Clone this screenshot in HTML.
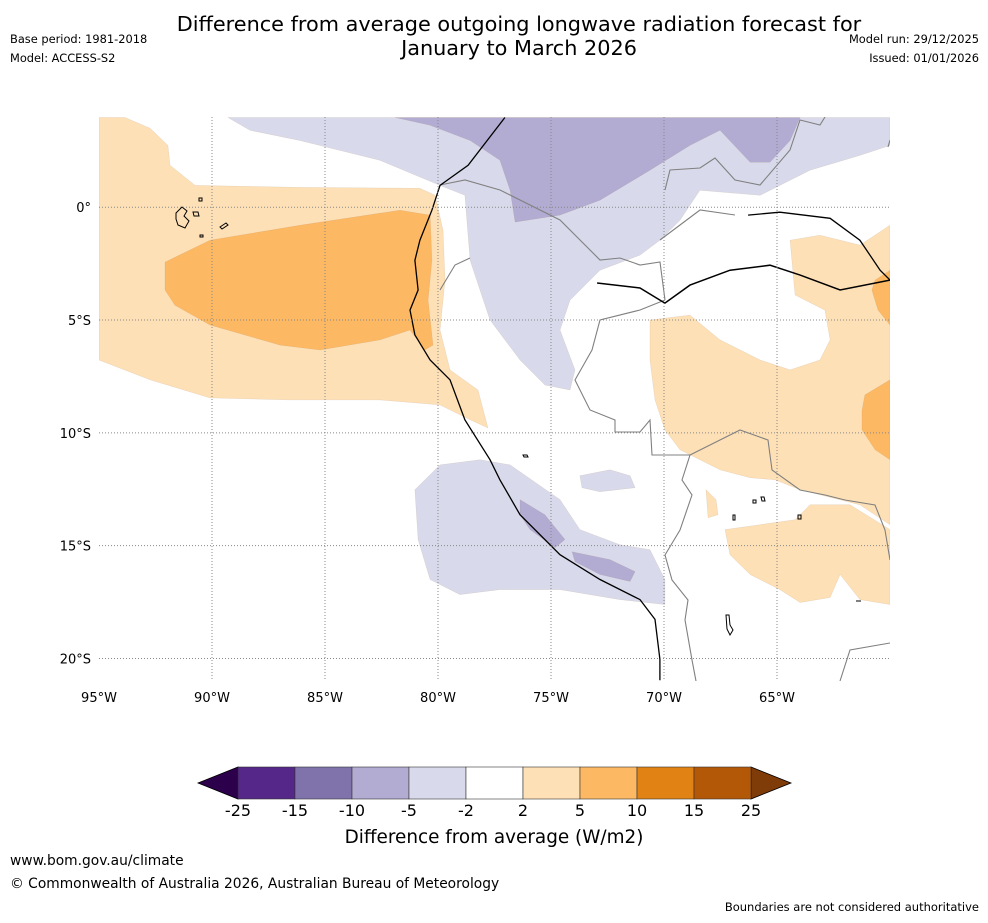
<!DOCTYPE html>
<html><head><meta charset="utf-8"><style>
body{margin:0;background:#fff;width:988px;height:919px;overflow:hidden;font-family:"DejaVu Sans","Liberation Sans",sans-serif;}
svg text{font-family:"DejaVu Sans","Liberation Sans",sans-serif;}
</style></head><body>
<svg id="c" width="988" height="919" xmlns="http://www.w3.org/2000/svg">
<text x="519" y="31" font-size="20.8" text-anchor="middle">Difference from average outgoing longwave radiation forecast for</text>
<text x="519" y="55" font-size="20.8" text-anchor="middle">January to March 2026</text>
<text x="10" y="43" font-size="11.4">Base period: 1981-2018</text>
<text x="10" y="62" font-size="11.4">Model: ACCESS-S2</text>
<text x="979" y="43" font-size="11.4" text-anchor="end">Model run: 29/12/2025</text>
<text x="979" y="62" font-size="11.4" text-anchor="end">Issued: 01/01/2026</text>
<defs><clipPath id="mc"><rect x="99" y="117" width="791" height="564"/></clipPath></defs>
<g id="map" clip-path="url(#mc)"></g>
<g id="grid"></g>
<g id="cbar"></g>
<text x="494" y="843" font-size="18.4" text-anchor="middle">Difference from average (W/m2)</text>
<text x="10" y="865" font-size="13.8">www.bom.gov.au/climate</text>
<text x="10" y="888" font-size="13.8">© Commonwealth of Australia 2026, Australian Bureau of Meteorology</text>
<text x="979" y="911" font-size="11.5" text-anchor="end">Boundaries are not considered authoritative</text>
</svg>
<script>
const lonTicks=[-95,-90,-85,-80,-75,-70,-65];
const lonLabels=["95°W","90°W","85°W","80°W","75°W","70°W","65°W"];
const latTicks=[0,-5,-10,-15,-20];
const latLabels=["0°","5°S","10°S","15°S","20°S"];
const cbValues=[-25,-15,-10,-5,-2,2,5,10,15,25];
const cbColors=["#542788","#8073ac","#b2abd2","#d8daeb","#ffffff","#fee0b6","#fdb863","#e08214","#b35806"];
const fillLightOrangeW=[[-95,3.98],[-93.85,3.98],[-92.74,3.5],[-91.95,2.74],[-91.86,1.86],[-90.75,0.97],[-86.1,0.88],[-80.8,0.84],[-80.13,0.53],[-79.78,-1.02],[-79.69,-3.23],[-79.91,-5.44],[-79.47,-7.21],[-78.23,-8.1],[-77.79,-9.78],[-78.58,-9.42],[-79.91,-8.76],[-82.57,-8.54],[-86.55,-8.54],[-90.09,-8.45],[-92.74,-7.65],[-95,-6.77]];
const fillOrangeW=[[-92.08,-2.43],[-90.09,-1.46],[-86.11,-0.8],[-81.68,-0.13],[-80.35,-0.35],[-80.27,-2.35],[-80.44,-4.12],[-80.22,-6.11],[-80.58,-6.33],[-81.24,-5.44],[-82.57,-5.88],[-85.22,-6.33],[-86.99,-6.11],[-90.09,-5.22],[-91.64,-4.34],[-92.08,-3.67]];
const fillLightPurpleN=[[-89.29,3.98],[-60,3.98],[-60,2.74],[-61.33,2.3],[-63.54,1.64],[-65.75,0.53],[-68.41,0.75],[-69.29,-0.58],[-70.18,-1.46],[-71.06,-2.12],[-72.83,-2.79],[-74.16,-4.12],[-74.6,-5.44],[-73.94,-7.21],[-74.16,-8.1],[-75.27,-7.88],[-76.37,-6.77],[-77.7,-5.0],[-78.14,-3.67],[-78.58,-2.35],[-78.81,0.53],[-79.91,0.97],[-82.57,2.08],[-86.11,2.96],[-88.32,3.41]];
const fillPurpleN=[[-81.9,3.98],[-63.98,3.98],[-64.42,2.96],[-65.31,1.99],[-66.19,1.99],[-67.52,3.41],[-68.85,2.74],[-70.62,1.64],[-72.83,0.31],[-74.6,-0.35],[-76.59,-0.66],[-76.81,0.75],[-77.26,2.08],[-78.58,2.96],[-80.35,3.63]];
const fillLightPurpleS=[[-81.02,-12.52],[-79.91,-11.42],[-78.14,-11.19],[-76.81,-11.42],[-74.6,-12.96],[-73.72,-14.29],[-71.95,-14.96],[-70.62,-15.18],[-69.96,-16.5],[-69.96,-17.61],[-71.95,-17.39],[-74.6,-16.95],[-77.26,-16.95],[-79.03,-17.17],[-80.35,-16.5],[-80.88,-14.73]];
const fillLightPurpleS2=[[-73.72,-11.9],[-72.39,-11.64],[-71.5,-11.9],[-71.28,-12.43],[-72.83,-12.61],[-73.63,-12.43]];
const fillPurpleS1=[[-76.37,-12.96],[-75.27,-13.63],[-74.38,-14.73],[-74.82,-15.09],[-75.93,-14.29],[-76.37,-13.63]];
const fillPurpleS2=[[-74.07,-15.27],[-72.39,-15.62],[-71.28,-16.15],[-71.5,-16.59],[-72.83,-16.28],[-73.94,-15.71]];
const fillLightOrangeE=[[-70.62,-5.0],[-68.85,-4.78],[-67.52,-5.88],[-65.75,-6.77],[-64.42,-7.21],[-63.1,-6.77],[-62.65,-5.88],[-62.88,-4.56],[-64.2,-3.89],[-64.42,-1.46],[-63.1,-1.24],[-61.33,-1.68],[-60,-0.8],[-60,-14.07],[-61.33,-13.19],[-63.1,-12.74],[-63.98,-12.52],[-65.09,-12.08],[-66.19,-11.99],[-67.52,-11.64],[-68.41,-11.19],[-69.29,-10.75],[-69.96,-9.87],[-70.4,-8.54],[-70.62,-6.77]];
const fillLightOrangeSE=[[-67.3,-14.29],[-65.75,-14.07],[-64.2,-13.85],[-63.54,-13.19],[-61.77,-13.19],[-60,-14.29],[-60,-17.61],[-61.33,-17.39],[-62.21,-16.28],[-62.65,-17.3],[-63.98,-17.52],[-64.87,-16.95],[-66.19,-16.28],[-67.08,-15.4]];
const fillLightOrangeSm=[[-68.14,-12.52],[-67.7,-12.96],[-67.61,-13.63],[-68.05,-13.76]];
const fillOrangeE1=[[-60.66,-3.23],[-60,-2.79],[-60,-5.22],[-60.53,-4.56],[-60.8,-3.67]];
const fillOrangeE2=[[-61.11,-8.32],[-60,-7.65],[-60,-11.19],[-60.66,-10.75],[-61.24,-9.87],[-61.24,-9.0]];
const coastWest=[[-77.04,3.98],[-78.67,1.86],[-79.91,0.97],[-80.27,-0.13],[-80.8,-1.46],[-81.02,-2.35],[-80.88,-3.67],[-81.24,-4.56],[-81.02,-5.66],[-80.35,-6.77],[-79.47,-7.65],[-78.81,-9.42],[-77.7,-11.19],[-77.26,-12.08],[-76.37,-13.63],[-74.6,-15.4],[-72.83,-16.5],[-71.06,-17.39],[-70.4,-18.27],[-70.18,-20.04],[-70.18,-20.97]];
const coastNorth=[[-66.28,-0.35],[-64.87,-0.22],[-62.65,-0.49],[-61.33,-1.46],[-60.44,-2.79],[-60,-3.23]];
const riverAmazon=[[-72.96,-3.36],[-71.06,-3.58],[-69.96,-4.25],[-68.85,-3.45],[-67.08,-2.79],[-65.31,-2.57],[-63.98,-3.01],[-62.21,-3.67],[-60,-3.23]];

const X0=99,X1=890,Y0=117,Y1=681;
const xs=lon=>X0+(lon+95)/35*(X1-X0);
const ys=lat=>Y0+(4-lat)/25*(Y1-Y0);
const NS="http://www.w3.org/2000/svg";
const map=document.getElementById('map');
function mk(tag,attrs,parent){const e=document.createElementNS(NS,tag);for(const k in attrs)e.setAttribute(k,attrs[k]);parent.appendChild(e);return e;}
function pts(a){return a.map(p=>xs(p[0]).toFixed(1)+','+ys(p[1]).toFixed(1)).join(' ');}
function poly(a,fill,name){const e=mk('polygon',{points:pts(a),fill:fill,stroke:'#a08060','stroke-width':0.3,'stroke-opacity':0.4},map);

}
function line(a,col,w,name){const e=mk('polyline',{points:pts(a),fill:'none',stroke:col,'stroke-width':w},map);

}
poly(fillLightOrangeW,cbColors[5],'west-light-orange-region');
poly(fillOrangeW,cbColors[6],'west-orange-region');
poly(fillLightPurpleN,cbColors[3],'north-light-purple-region');
poly(fillPurpleN,cbColors[2],'north-purple-region');
poly(fillLightPurpleS,cbColors[3],'south-light-purple-region');
poly(fillLightPurpleS2,cbColors[3],'south-light-purple-patch');
poly(fillPurpleS1,cbColors[2],'south-purple-patch-1');
poly(fillPurpleS2,cbColors[2],'south-purple-patch-2');
poly(fillLightOrangeE,cbColors[5],'east-light-orange-region');
poly(fillLightOrangeSE,cbColors[5],'southeast-light-orange-region');
poly(fillLightOrangeSm,cbColors[5],'small-light-orange-patch');
poly(fillOrangeE1,cbColors[6],'east-orange-patch-1');
poly(fillOrangeE2,cbColors[6],'east-orange-patch-2');
const borders=["M440,185 L465,180 L500,190 L540,210 L560,220 L580,240 L600,260 L620,258 L640,265 L660,262 L665,300",
"M665,300 L640,310 L600,320 L592,350 L575,380 L590,410 L615,420 L615,432 L640,432 L650,420 L652,455 L690,455 L682,480 L692,495 L680,530 L665,555",
"M665,555 L672,580 L688,600 L685,620 L692,660 L696,681",
"M690,455 L740,430 L768,440 L772,470 L800,490 L825,495 L845,500 L875,505 L885,530 L890,560",
"M665,190 L670,170 L700,168 L715,158 L735,180 L760,185 L790,150 L800,120 L820,125 L825,117",
"M840,681 L850,650 L890,643",
"M440,290 L455,265 L470,258",
"M890,140 L888,147",
"M660,240 L700,210 L735,215"];
borders.forEach((d,i)=>{const e=mk('path',{d:d,fill:'none',stroke:'#808080','stroke-width':1.1},map);

});
line(coastWest,'#000',1.3,'west-coastline');
line(coastNorth,'#000',1.3,'north-coastline');
line(riverAmazon,'#000',1.5,'amazon-river');
const isl=["M176,213 l6,-6 l5,4 l-3,5 l5,5 l-4,7 l-7,-3 l-2,-6z","M193,212 l5,0 l1,4 l-5,0z","M199,198 l3,0 l0,3 l-3,0z","M220,227 l6,-4 l2,2 l-6,4z","M200,235 l3,0 l0,2 l-3,0z","M523,455 l4,0 l1,2 l-4,0z","M753,500 l3,0 l0,3 l-3,0z","M761,497 l3,0 l1,4 l-3,0z","M733,515 l2,0 l0,5 l-2,0z","M798,515 l3,0 l0,4 l-3,0z","M726,615 l3,0 l1,10 l3,5 l-3,5 l-3,-6z","M856,601 l5,0"];
isl.forEach((d,i)=>{const e=mk('path',{d:d,fill:'none',stroke:'#000','stroke-width':1},map);

});
const g=document.getElementById('grid');
lonTicks.forEach((v,i)=>{const x=xs(v);
if(i>0){const l=mk('line',{x1:x,x2:x,y1:Y0,y2:Y1,stroke:'#888','stroke-width':1,'stroke-dasharray':'1,2'},g);

}
const t=mk('text',{x:x,y:702,'font-size':13,'text-anchor':'middle'},g);t.textContent=lonLabels[i];

});
latTicks.forEach((v,i)=>{const y=ys(v);
const l=mk('line',{x1:X0,x2:X1,y1:y,y2:y,stroke:'#888','stroke-width':1,'stroke-dasharray':'1,2'},g);


const t=mk('text',{x:91,y:y+5,'font-size':13,'text-anchor':'end'},g);t.textContent=latLabels[i];

});
const cb=document.getElementById('cbar');
const CB0=238,CBW=57,CBY=767,CBH=32;
const n=cbColors.length;
const la=mk('polygon',{points:`${CB0},${CBY} ${CB0-40},${CBY+CBH/2} ${CB0},${CBY+CBH}`,fill:'#2d004b',stroke:'#000','stroke-width':0.8},cb);


const ra=mk('polygon',{points:`${CB0+n*CBW},${CBY} ${CB0+n*CBW+40},${CBY+CBH/2} ${CB0+n*CBW},${CBY+CBH}`,fill:'#7f3b08',stroke:'#000','stroke-width':0.8},cb);


cbColors.forEach((c,i)=>{const r=mk('rect',{x:CB0+i*CBW,y:CBY,width:CBW,height:CBH,fill:c,stroke:'#333','stroke-width':0.6},cb);

});
cbValues.forEach((v,i)=>{const t=mk('text',{x:CB0+i*CBW,y:816,'font-size':16,'text-anchor':'middle'},cb);t.textContent=v;

});
</script>
</body></html>
